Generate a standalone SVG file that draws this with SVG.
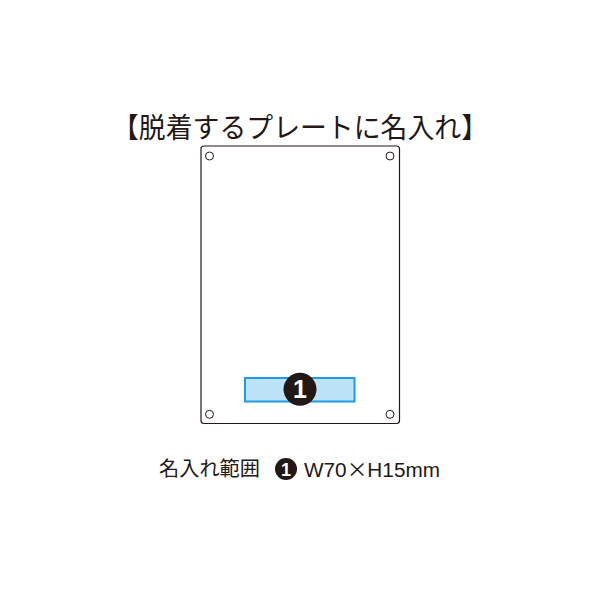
<svg xmlns="http://www.w3.org/2000/svg" width="600" height="600" viewBox="0 0 600 600">
<style>
.t{font-family:"Noto Sans CJK JP","Noto Sans",sans-serif;fill:#231815}
.hole{fill:#fff;stroke:#231815;stroke-width:1}
</style>
<rect width="600" height="600" fill="#fff"/>
<text class="t" x="300" y="137.5" font-size="28" text-anchor="middle" textLength="376" lengthAdjust="spacingAndGlyphs">【脱着するプレートに名入れ】</text>
<g id="plate">
<rect x="201" y="146" width="198.5" height="277.5" rx="3" fill="#fff" stroke="#231815" stroke-width="1.2"/>
<circle class="hole" cx="209.5" cy="156" r="4"/>
<circle class="hole" cx="390" cy="156" r="4"/>
<circle class="hole" cx="209.5" cy="414.3" r="4"/>
<circle class="hole" cx="390" cy="414.3" r="4"/>
</g>
<g id="area">
<rect x="245" y="378" width="109.5" height="23.5" fill="#bde3f8" stroke="#1e9be2" stroke-width="2"/>
<circle cx="300" cy="389.3" r="16.5" fill="#231815"/>
<text x="300" y="398" font-family="Liberation Sans,Arial,sans-serif" font-weight="bold" font-size="25" fill="#fff" text-anchor="middle">1</text>
</g>
<g id="legend">
<text class="t" x="159" y="476" font-size="20" textLength="101" lengthAdjust="spacingAndGlyphs">名入れ範囲</text>
<circle cx="286" cy="469" r="11" fill="#231815"/>
<text x="286" y="475.5" font-family="Liberation Sans,Arial,sans-serif" font-weight="bold" font-size="18" fill="#fff" text-anchor="middle">1</text>
<text x="304" y="477" font-family="Liberation Sans,'Noto Sans CJK JP',sans-serif" font-size="20" fill="#231815" textLength="136" lengthAdjust="spacingAndGlyphs">W70<tspan font-family="'Noto Sans CJK JP',sans-serif">×</tspan>H15mm</text>
</g>
</svg>
